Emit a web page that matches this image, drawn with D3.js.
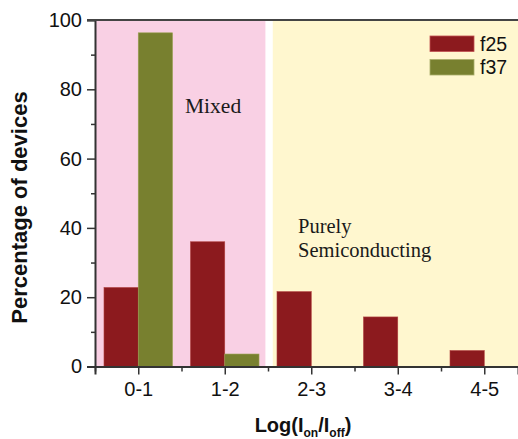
<!DOCTYPE html>
<html><head><meta charset="utf-8">
<script src="https://cdn.jsdelivr.net/npm/d3@7"></script>
<style>body{margin:0;background:#fff}svg{display:block}</style>
</head><body>
<svg id="c" width="518" height="439"></svg>
<script>
const categories = ["0-1","1-2","2-3","3-4","4-5"];
const f25 = [22.8, 36.0, 21.6, 14.3, 4.6];
const f37 = [96.3, 3.6, 0, 0, 0];
const yTicks = [0,20,40,60,80,100];
const seriesNames = ["f25","f37"];
const colors = ["#8c1a1e","#78802f"];

const svg = d3.select("#c");
const L = 95, R = 518, T = 20, B = 366.5;
const x = d3.scaleLinear().domain([0.5, 5.39]).range([L, R]);
const y = d3.scaleLinear().domain([0, 100]).range([B, T]);

// background regions
svg.append("rect").attr("x", x(0.5)).attr("y", y(100)).attr("width", x(2.47)-x(0.5)).attr("height", y(0)-y(100)).attr("fill","#f9d0e4");
svg.append("rect").attr("x", x(2.555)).attr("y", y(100)).attr("width", R-x(2.555)).attr("height", y(0)-y(100)).attr("fill","#fff7cf");

// bars
const bw = 0.396;
const g = svg.append("g");
categories.forEach((c,i)=>{
  const cx = i+1;
  g.append("rect").attr("x", x(cx-bw)).attr("y", y(f25[i])).attr("width", x(cx)-x(cx-bw)).attr("height", y(0)-y(f25[i]))
    .attr("fill", colors[0]).attr("stroke","#b0403f").attr("stroke-width",0.6);
  if (f37[i] > 0)
    g.append("rect").attr("x", x(cx)).attr("y", y(f37[i])).attr("width", x(cx+bw)-x(cx)).attr("height", y(0)-y(f37[i]))
      .attr("fill", colors[1]).attr("stroke","#9aa052").attr("stroke-width",0.6);
});

// axes
const axisColor = "#333";
const yAxis = d3.axisLeft(y).tickValues(yTicks).tickSize(8).tickPadding(5).tickFormat(d3.format("d"));
const yg = svg.append("g").attr("transform",`translate(${L},0)`).call(yAxis);
const yMinor = svg.append("g").attr("transform",`translate(${L},0)`).call(d3.axisLeft(y).tickValues([10,30,50,70,90]).tickSize(4).tickFormat(""));
const xAxis = d3.axisBottom(x).tickValues([1,2,3,4,5]).tickSize(8).tickPadding(7).tickFormat((d)=>categories[d-1]);
const xg = svg.append("g").attr("transform",`translate(0,${B})`).call(xAxis);
const xMinor = svg.append("g").attr("transform",`translate(0,${B})`).call(d3.axisBottom(x).tickValues([0.5,1.5,2.5,3.5,4.5]).tickSize(5).tickFormat(""));
[yg,yMinor,xg,xMinor].forEach(a=>{
  a.select(".domain").attr("stroke",axisColor).attr("stroke-width",2);
  a.selectAll(".tick line").attr("stroke",axisColor).attr("stroke-width",1.5);
  a.selectAll("text").attr("font-family","Liberation Sans, Arial, sans-serif").attr("font-size",20).attr("fill","#111");
});
yMinor.select(".domain").remove(); xMinor.select(".domain").remove();
// top border
svg.append("line").attr("x1",L-8).attr("x2",R).attr("y1",T).attr("y2",T).attr("stroke","#444").attr("stroke-width",2);

// region labels
const serif = "Liberation Serif, Times New Roman, serif";
svg.append("text").attr("x",185).attr("y",113).attr("font-family",serif).attr("font-size",21.5).attr("fill","#1a1a1a").text("Mixed");
svg.append("text").attr("x",298).attr("y",233).attr("font-family",serif).attr("font-size",20.5).attr("fill","#1a1a1a").text("Purely");
svg.append("text").attr("x",298).attr("y",257).attr("font-family",serif).attr("font-size",20.5).attr("fill","#1a1a1a").text("Semiconducting");

// legend
seriesNames.forEach((s,i)=>{
  const ly = 36 + i*23.5;
  svg.append("rect").attr("x",430).attr("y",ly).attr("width",44).attr("height",15.5).attr("fill",colors[i]).attr("stroke", i? "#a8ad6a":"#c05050").attr("stroke-width",0.8);
  svg.append("text").attr("x",480).attr("y",ly+14.5).attr("font-family","Liberation Sans, Arial, sans-serif").attr("font-size",19.5).attr("fill","#111").text(s);
});

// axis titles
svg.append("text").attr("transform","translate(27,207.5) rotate(-90)").attr("text-anchor","middle")
  .attr("font-family","Liberation Sans, Arial, sans-serif").attr("font-weight","bold").attr("font-size",22).attr("fill","#111")
  .text("Percentage of devices");
const xt = svg.append("text").attr("x",303).attr("y",431.5).attr("text-anchor","middle")
  .attr("font-family","Liberation Sans, Arial, sans-serif").attr("font-weight","bold").attr("font-size",20).attr("fill","#111");
xt.append("tspan").text("Log(I");
xt.append("tspan").attr("font-size",12).attr("dy",5).text("on");
xt.append("tspan").attr("dy",-5).text("/I");
xt.append("tspan").attr("font-size",12).attr("dy",5).text("off");
xt.append("tspan").attr("dy",-5).text(")");
</script>
</body></html>
